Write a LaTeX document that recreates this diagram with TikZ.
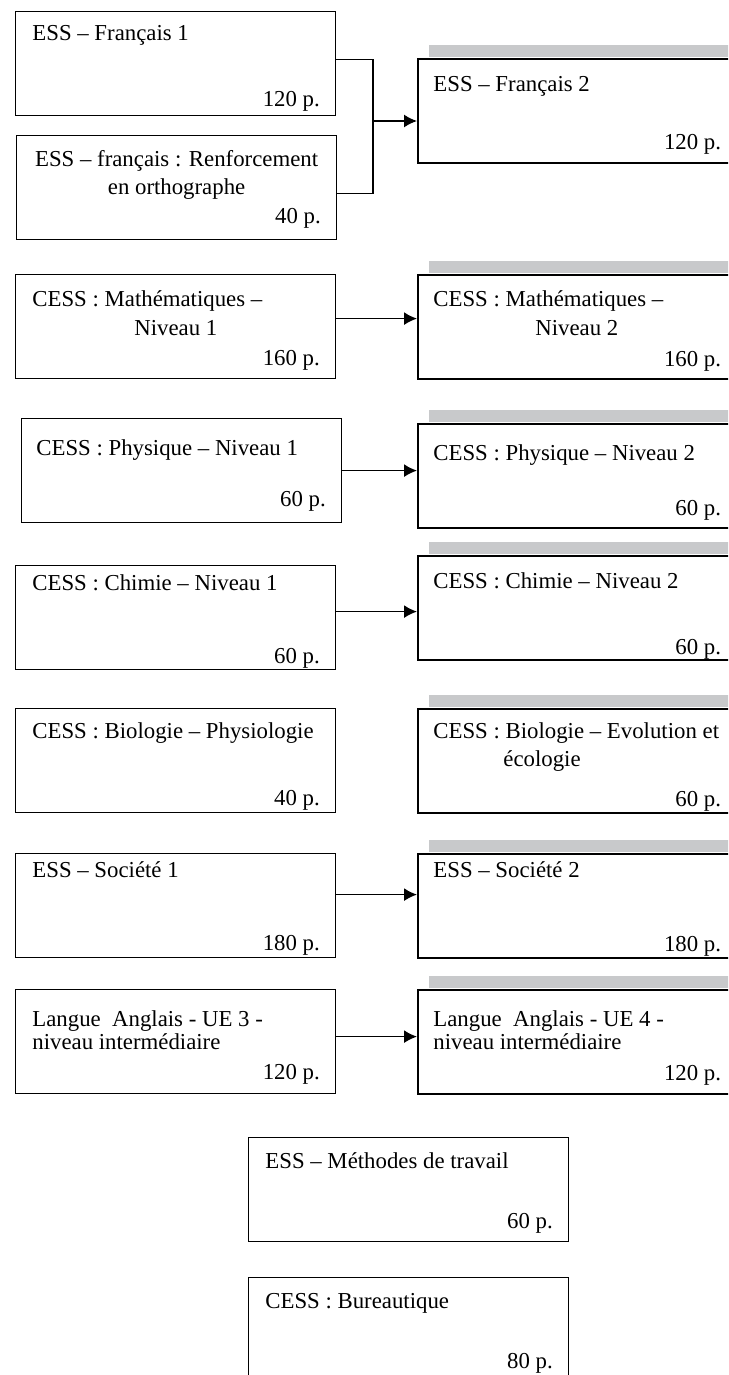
\documentclass[tikz,border=0pt]{standalone}
\usepackage{fontspec}
\setmainfont{Liberation Serif}
\usetikzlibrary{arrows.meta}
\usetikzlibrary{positioning}
\usetikzlibrary{calc}
\definecolor{bargray}{RGB}{200,201,203}

\begin{document}
\begin{tikzpicture}[x=0.5pt,y=-0.5pt]
\tikzstyle{course} = [rectangle, draw, line width=0.6pt, anchor=north west,
minimum width=160pt, minimum height=52pt, inner sep=0pt]
\tikzstyle{course2} = [course, line width=1.2pt, minimum width=159pt]
\tikzstyle{title} = [anchor=north west, inner sep=0pt, align=left, font=\fontsize{11.4}{14}\selectfont]
\tikzstyle{pages} = [anchor=base east, inner sep=0pt, font=\fontsize{11.4}{14}\selectfont]
\tikzstyle{bar} = [fill=bargray, draw=none]
\tikzstyle{link} = [draw, line width=0.75pt]
\tikzstyle{arrow} = [link, -{Latex[length=6.5pt,width=6.5pt]}]
\clip (0,0) rectangle (728,1375);
% row 1
\node [course] (fr1) at (15,11) {};
\node [title] (fr1t) at ($(fr1.north west)+(17,10)$) {\strut ESS – Français 1};
\node [pages] (fr1p) at ($(fr1.south east)+(-16,-10)$) {120 p.};
\node [course] (frR) at (16,135) {};
\node [title, anchor=north, align=center] (frRt) at ($(frR.north)+(0,12)$) {\strut ESS – français : Renforcement\\ en orthographe};
\node [pages] (frRp) at ($(frR.south east)+(-16,-17)$) {40 p.};
\node [course2] (fr2) at (417,58) {};
\node [title] (fr2t) at ($(fr2.north west)+(16,14)$) {\strut ESS – Français 2};
\node [pages] (fr2p) at ($(fr2.south east)+(-16,-15)$) {120 p.};
% row 2
\node [course] (math1) at (15,274) {};
\node [title] (math1t) at ($(math1.north west)+(17,13)$) {\strut CESS : Mathématiques –\\ \hspace*{51pt}Niveau 1};
\node [pages] (math1p) at ($(math1.south east)+(-16,-14)$) {160 p.};
\node [course2] (math2) at (417,274) {};
\node [title] (math2t) at ($(math2.north west)+(16,13)$) {\strut CESS : Mathématiques –\\ \hspace*{51pt}Niveau 2};
\node [pages] (math2p) at ($(math2.south east)+(-16,-14)$) {160 p.};
% row 3
\node [course] (phys1) at (21,418) {};
\node [title] (phys1t) at ($(phys1.north west)+(15,17)$) {\strut CESS : Physique – Niveau 1};
\node [pages] (phys1p) at ($(phys1.south east)+(-16,-17)$) {60 p.};
\node [course2] (phys2) at (417,423) {};
\node [title] (phys2t) at ($(phys2.north west)+(16,17)$) {\strut CESS : Physique – Niveau 2};
\node [pages] (phys2p) at ($(phys2.south east)+(-16,-14)$) {60 p.};
% row 4
\node [course] (chim1) at (15,565) {};
\node [title] (chim1t) at ($(chim1.north west)+(17,5)$) {\strut CESS : Chimie – Niveau 1};
\node [pages] (chim1p) at ($(chim1.south east)+(-16,-7)$) {60 p.};
\node [course2] (chim2) at (417,555) {};
\node [title] (chim2t) at ($(chim2.north west)+(16,13)$) {\strut CESS : Chimie – Niveau 2};
\node [pages] (chim2p) at ($(chim2.south east)+(-16,-7)$) {60 p.};
% row 5
\node [course] (bio1) at (15,708) {};
\node [title] (bio1t) at ($(bio1.north west)+(17,10)$) {\strut CESS : Biologie – Physiologie};
\node [pages] (bio1p) at ($(bio1.south east)+(-16,-8)$) {40 p.};
\node [course2] (bio2) at (417,708) {};
\node [title] (bio2t) at ($(bio2.north west)+(16,10)$) {\strut CESS : Biologie – Evolution et\\ \hspace*{35pt}écologie};
\node [pages] (bio2p) at ($(bio2.south east)+(-16,-8)$) {60 p.};
% row 6
\node [course] (soc1) at (15,853) {};
\node [title] (soc1t) at ($(soc1.north west)+(17,4)$) {\strut ESS – Société 1};
\node [pages] (soc1p) at ($(soc1.south east)+(-16,-8)$) {180 p.};
\node [course2] (soc2) at (417,853) {};
\node [title] (soc2t) at ($(soc2.north west)+(16,4)$) {\strut ESS – Société 2};
\node [pages] (soc2p) at ($(soc2.south east)+(-16,-8)$) {180 p.};
% row 7
\node [course] (ang1) at (15,989) {};
\node [title] (ang1t) at ($(ang1.north west)+(17,17)$) {\strut Langue\ \ Anglais - UE 3 -\\[-2.5pt] niveau intermédiaire};
\node [pages] (ang1p) at ($(ang1.south east)+(-16,-15)$) {120 p.};
\node [course2] (ang2) at (417,989) {};
\node [title] (ang2t) at ($(ang2.north west)+(16,17)$) {\strut Langue\ \ Anglais - UE 4 -\\[-2.5pt] niveau intermédiaire};
\node [pages] (ang2p) at ($(ang2.south east)+(-16,-15)$) {120 p.};
% rows 8 and 9
\node [course] (meth) at (248,1137) {};
\node [title] (metht) at ($(meth.north west)+(17,11)$) {\strut ESS – Méthodes de travail};
\node [pages] (methp) at ($(meth.south east)+(-16,-14)$) {60 p.};
\node [course] (bur) at (248,1277) {};
\node [title] (burt) at ($(bur.north west)+(17,11)$) {\strut CESS : Bureautique};
\node [pages] (burp) at ($(bur.south east)+(-16,-14)$) {80 p.};
% grey bars
\foreach \n in {fr2,math2,phys2,chim2,bio2,soc2,ang2}
  \fill [bar] ($(\n.north west)+(12,-13)$) rectangle ($(\n.north east)+(12,-1)$);
% links
\coordinate (frjoin) at (373,121);
\draw [link] ([yshift=2pt]fr1.east) -| (frjoin) |- ([yshift=-3pt]frR.east);
\draw [arrow] (frjoin) -- (frjoin -| fr2.west);
\draw [arrow] ([yshift=4pt]math1.east) -- ([yshift=4pt]math1.east -| math2.west);
\draw [arrow] (phys1.east) -- (phys1.east -| phys2.west);
\draw [arrow] ([yshift=3pt]chim1.east) -- ([yshift=3pt]chim1.east -| chim2.west);
\draw [arrow] ([yshift=5.5pt]soc1.east) -- ([yshift=5.5pt]soc1.east -| soc2.west);
\draw [arrow] ([yshift=2.5pt]ang1.east) -- ([yshift=2.5pt]ang1.east -| ang2.west);
\end{tikzpicture}
\end{document}
